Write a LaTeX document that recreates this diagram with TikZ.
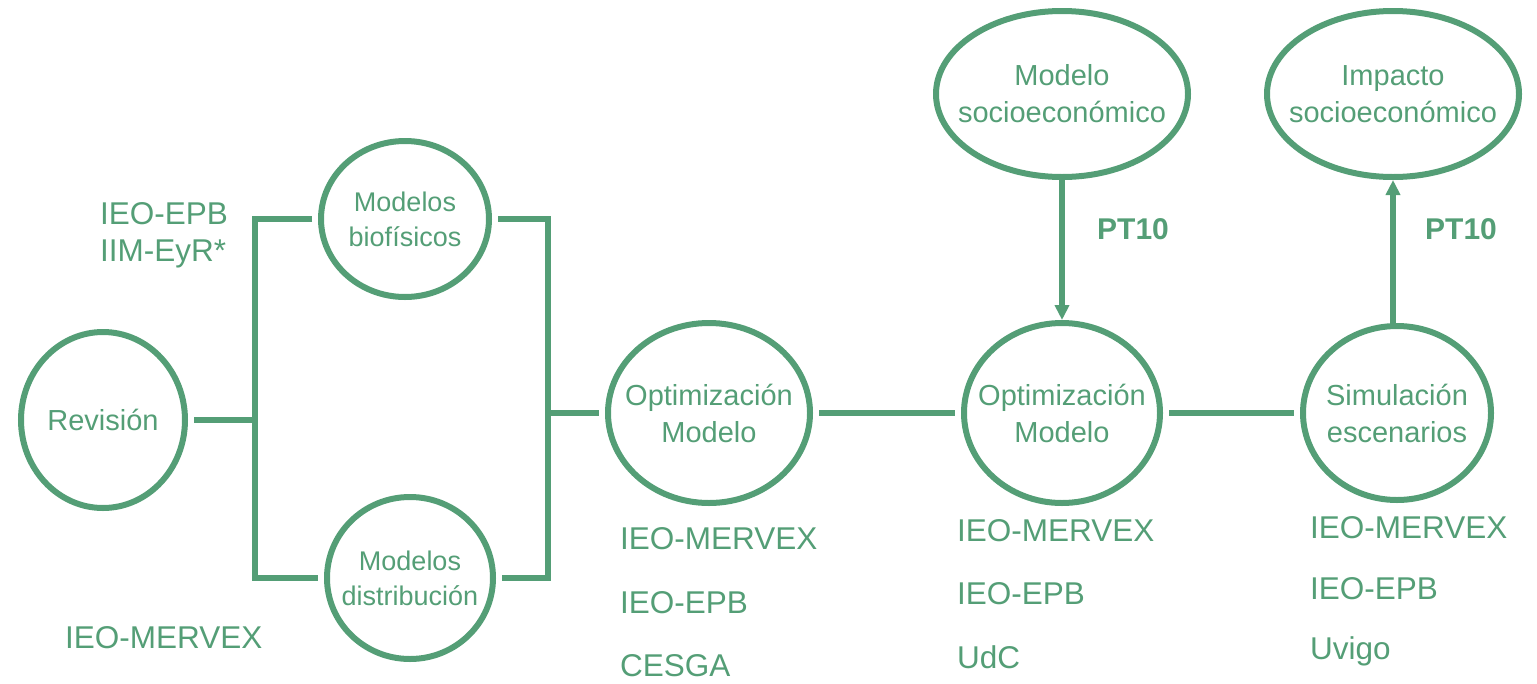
\documentclass[tikz,border=0pt]{standalone}
\usepackage{fontspec}
\setmainfont{Liberation Sans}
\usetikzlibrary{shapes.geometric,arrows.meta}
\definecolor{gr}{RGB}{84,158,118}
\tikzset{
  ell/.style={ellipse, draw=gr, line width=6pt, inner sep=0pt, outer sep=3pt},
  conn/.style={draw=gr, line width=6pt, shorten <=6pt, shorten >=6pt},
  arr/.style={draw=gr, line width=6pt, -{Triangle[length=15pt,width=14pt]}},
  ntxt/.style={text=gr, align=center, font=\fontsize{29}{37}\selectfont},
  stxt/.style={text=gr, align=center, font=\fontsize{27}{35}\selectfont},
  lab/.style={text=gr, anchor=base west, inner sep=0pt, font=\fontsize{31.5}{37}\selectfont},
  ptlab/.style={text=gr, anchor=base west, inner sep=0pt, font=\bfseries\fontsize{30}{36}\selectfont}
}
\begin{document}
\begin{tikzpicture}[x=1pt,y=-1pt]
\useasboundingbox (0,0) rectangle (1537,683);
% ellipses
\node[ell, minimum width=164pt, minimum height=176pt] (rev) at (103,420) {};
\node[ntxt] at (rev) {Revisión};
\node[ell, minimum width=168pt, minimum height=156pt] (bio) at (405,219) {};
\node[stxt] at (bio) {Modelos\\biofísicos};
\node[ell, minimum width=166pt, minimum height=162pt] (dist) at (410,578) {};
\node[stxt] at (dist) {Modelos\\distribución};
\node[ell, minimum width=202pt, minimum height=180pt] (opt1) at (709,413) {};
\node[ntxt] at (opt1) {Optimización\\Modelo};
\node[ell, minimum width=196pt, minimum height=180pt] (opt2) at (1062,413) {};
\node[ntxt] at (opt2) {Optimización\\Modelo};
\node[ell, minimum width=188pt, minimum height=174pt] (sim) at (1397,413) {};
\node[ntxt] at (sim) {Simulación\\escenarios};
\node[ell, minimum width=252pt, minimum height=166pt] (socio) at (1062,94) {};
\node[ntxt] at (socio) {Modelo\\socioeconómico};
\node[ell, minimum width=252pt, minimum height=166pt] (imp) at (1393,94) {};
\node[ntxt] at (imp) {Impacto\\socioeconómico};
% junctions
\coordinate (jl) at (255,420);
\coordinate (jr) at (548,413);
% connectors
\draw[conn, shorten >=0pt] (rev.east) -- (jl);
\draw[conn, shorten >=0pt] (bio.west) -| (jl);
\draw[conn, shorten <=0pt] (jl) |- (dist.west);
\draw[conn, shorten >=0pt] (bio.east) -| (jr);
\draw[conn, shorten <=0pt] (jr) |- (dist.east);
\draw[conn, shorten <=0pt] (jr) -- (opt1.west);
\draw[conn] (opt1.east) -- (opt2.west);
\draw[conn] (opt2.east) -- (sim.west);
\draw[arr] (socio.south) -- (opt2.north);
\draw[arr] (imp.south |- sim.north) -- (imp.south);
% labels
\node[lab] (l1) at (100,224) {IEO-EPB};
\node[lab] (l2) at (100,261) {IIM-EyR*};
\node[lab] (l3) at (65,648) {IEO-MERVEX};
\node[lab] (a1) at (620,549) {IEO-MERVEX};
\node[lab] (a2) at (620,613) {IEO-EPB};
\node[lab] (a3) at (620,676) {CESGA};
\node[lab] (b1) at (957,541) {IEO-MERVEX};
\node[lab] (b2) at (957,604) {IEO-EPB};
\node[lab] (b3) at (957,668) {UdC};
\node[lab] (c1) at (1310,538) {IEO-MERVEX};
\node[lab] (c2) at (1310,599) {IEO-EPB};
\node[lab] (c3) at (1310,659) {Uvigo};
\node[ptlab] (p1) at (1097,239) {PT10};
\node[ptlab] (p2) at (1425,239) {PT10};
\end{tikzpicture}
\end{document}
